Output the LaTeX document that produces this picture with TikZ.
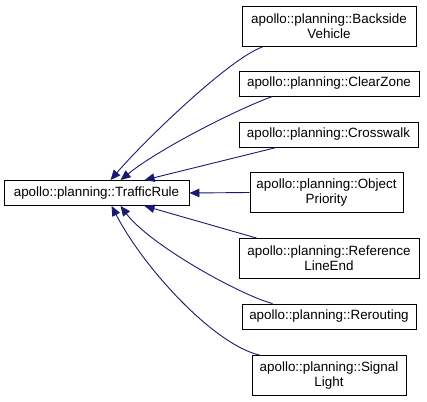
\documentclass[tikz,border=0pt]{standalone}
\usepackage{fontspec}
\setmainfont{Liberation Sans}
\usetikzlibrary{arrows.meta}
\definecolor{edgeblue}{HTML}{191970}

\begin{document}
\begin{tikzpicture}[x=1pt,y=-1pt,
  cls/.style={draw,line width=0.9pt,align=center,inner sep=1pt,minimum height=25pt,font=\fontsize{13.4}{15}\selectfont},
  inh/.style={-{Triangle[length=10pt,width=8.5pt]},edgeblue,line width=0.9pt}]
  \useasboundingbox (0,0) rectangle (427,401);
  \node[cls,minimum width=185pt] (tr) at (96.5,193) {apollo::planning::TrafficRule};
  \node[cls,minimum width=174pt,minimum height=40pt] (bv) at (329,26.5) {apollo::planning::Backside\\Vehicle};
  \node[cls,minimum width=180pt] (cz) at (329,83.5) {apollo::planning::ClearZone};
  \node[cls,minimum width=179pt] (cw) at (328.5,134.5) {apollo::planning::Crosswalk};
  \node[cls,minimum width=153pt,minimum height=40pt] (op) at (326.5,192.5) {apollo::planning::Object\\Priority};
  \node[cls,minimum width=180pt,minimum height=40pt] (rl) at (329,258.5) {apollo::planning::Reference\\LineEnd};
  \node[cls,minimum width=174pt] (rr) at (329,316.5) {apollo::planning::Rerouting};
  \node[cls,minimum width=154pt,minimum height=40pt] (sl) at (329,375.5) {apollo::planning::Signal\\Light};
  \draw[inh] ([xshift=21pt]bv.south west) .. controls (230,58) and (145,140) .. ([xshift=107pt]tr.north west);
  \draw[inh] ([xshift=34pt]cz.south west) .. controls (240,108) and (160,148) .. ([xshift=117pt]tr.north west);
  \draw[inh] ([xshift=38pt]cw.south west) -- ([xshift=141pt]tr.north west);
  \draw[inh] (op.west) -- (tr.east);
  \draw[inh] ([xshift=18pt]rl.north west) -- ([xshift=141pt]tr.south west);
  \draw[inh] ([xshift=31pt]rr.north west) .. controls (240,295) and (150,245) .. ([xshift=117pt]tr.south west);
  \draw[inh] ([xshift=8pt]sl.north west) .. controls (215,345) and (145,270) .. ([xshift=108pt]tr.south west);
\end{tikzpicture}
\end{document}
